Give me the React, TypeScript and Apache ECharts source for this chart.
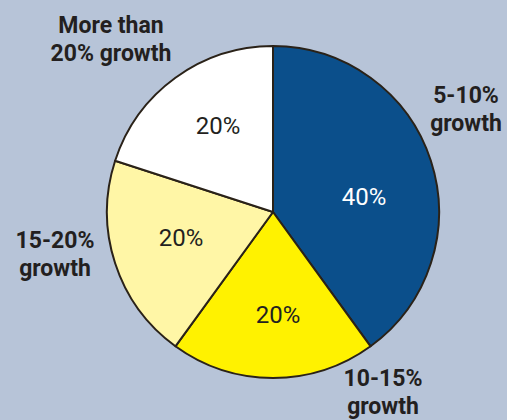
import React, { useEffect, useRef } from "react";
import * as echarts from "echarts";

const categories = ["5-10%\ngrowth", "10-15%\ngrowth", "15-20%\ngrowth", "More than\n20% growth"];
const shares = [40, 20, 20, 20];
const sliceColors = ["#0b4f8b", "#fff200", "#fff6a6", "#ffffff"];
const insideTextColors = ["#ffffff", "#231f20", "#231f20", "#231f20"];

const FONT = "Roboto, 'Liberation Sans', sans-serif";
// outside name label positions (block centres, px)
const namePos = [
  [466, 109],
  [383, 392],
  [55, 254],
  [111, 39],
];
// inside percentage label positions (centres, px)
const valuePos = [
  [364, 197],
  [278, 315],
  [181, 238],
  [218, 126],
];

export default function App() {
  const ref = useRef<HTMLDivElement>(null);
  useEffect(() => {
    document.body.style.margin = "0";
    const chart = echarts.init(ref.current!, null, { renderer: "svg" });
    const center = [273, 212];
    const R = 166;
    chart.setOption({
      animation: false,
      backgroundColor: "#b7c4d8",
      series: [
        {
          type: "pie",
          center,
          radius: [0, R],
          startAngle: 90,
          clockwise: true,
          silent: true,
          itemStyle: { borderColor: "#2a2218", borderWidth: 2 },
          data: categories.map((name, i) => ({
            name,
            value: shares[i],
            itemStyle: { color: sliceColors[i] },
          })),
          label: {
            show: true,
            position: "outside",
            formatter: "{b}",
            fontFamily: FONT,
            fontWeight: "bold",
            fontSize: 23,
            lineHeight: 28,
            color: "#231f20",
            align: "center",
            overflow: "none",
          },
          labelLine: { show: false },
          labelLayout: (p: any) => ({
            x: namePos[p.dataIndex][0],
            y: namePos[p.dataIndex][1],
            align: "center",
            verticalAlign: "middle",
            hideOverlap: false,
            moveOverlap: false,
          }),
        },
        {
          type: "pie",
          center,
          radius: [34, R],
          startAngle: 90,
          clockwise: true,
          silent: true,
          itemStyle: { color: "transparent", borderWidth: 0 },
          data: categories.map((name, i) => ({
            name,
            value: shares[i],
            label: { color: insideTextColors[i] },
          })),
          label: {
            show: true,
            position: "inside",
            formatter: "{c}%",
            fontFamily: FONT,
            fontSize: 24,
            fontWeight: "normal",
            overflow: "none",
          },
          labelLine: { show: false },
          labelLayout: (p: any) => ({
            x: valuePos[p.dataIndex][0],
            y: valuePos[p.dataIndex][1],
            align: "center",
            verticalAlign: "middle",
            hideOverlap: false,
            moveOverlap: false,
          }),
        },
      ],
    });
    return () => chart.dispose();
  }, []);
  return <div ref={ref} style={{ width: 507, height: 420 }} />;
}
